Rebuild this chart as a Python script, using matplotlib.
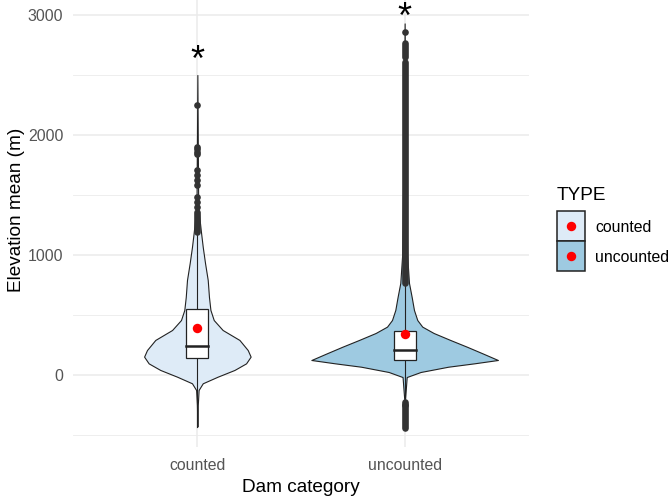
import numpy as np
import matplotlib
matplotlib.use('Agg')
import matplotlib.pyplot as plt
from matplotlib.patches import Rectangle

plt.rcParams['font.family'] = ['Liberation Sans', 'DejaVu Sans']

categories = ["counted", "uncounted"]
fills = ["#DEEBF7", "#9ECAE1"]

# violin outlines: elevation (m) and half width (category units)
counted_elev = [2500, 1400, 1183, 1067, 933, 792, 650, 542, 458, 375, 292, 208, 153, 97, 42, -14, -69, -125, -250, -430]
counted_half = [0.0, 0.004, 0.018, 0.026, 0.037, 0.05, 0.056, 0.063, 0.079, 0.122, 0.203, 0.243, 0.257,
                0.235, 0.179, 0.098, 0.026, 0.006, 0.002, 0.0]
uncounted_elev = [2930, 2000, 1000, 767, 650, 542, 458, 403, 350, 292, 236, 181, 125, 97, 69, 25, -17, -200, -440]
uncounted_half = [0.0, 0.004, 0.012, 0.021, 0.034, 0.045, 0.061, 0.085, 0.14, 0.22, 0.30, 0.375, 0.45,
                  0.335, 0.21, 0.077, 0.01, 0.002, 0.0]

# boxplot stats
q1 = [142, 125]
median = [244, 208]
q3 = [552, 367]
mean = [392, 342]
whisker_low = [-430, -220]
whisker_high = [1182, 762]

# outliers: single points and dense runs (low, high)
outlier_points = [
    [2250, 1900, 1880, 1860, 1840, 1710, 1670, 1625, 1585, 1485, 1440, 1400],
    [2860, -250],
]
outlier_runs = [
    [(1190, 1360)],
    [(2650, 2765), (770, 2610), (-440, -225)],
]

star_y = [2535, 2890]

violins = [(counted_elev, counted_half), (uncounted_elev, uncounted_half)]
pos = [1, 2]
dark = "#222222"

fig = plt.figure(figsize=(6.72, 4.99), dpi=100)
ax = fig.add_axes([73 / 672, 52 / 499, 456 / 672, 447 / 499])

ax.set_xlim(0.4, 2.6)
ax.set_ylim(-600, 3125)
ax.set_yticks([0, 1000, 2000, 3000])
ax.set_yticks([-500, 500, 1500, 2500], minor=True)
ax.set_xticks(pos)
ax.set_xticklabels(categories)
ax.grid(which='major', color='#EBEBEB', lw=1.1)
ax.grid(which='minor', axis='y', color='#EBEBEB', lw=0.6)
ax.set_axisbelow(True)
for s in ax.spines.values():
    s.set_visible(False)
ax.tick_params(which='both', length=0, labelsize=11.4, labelcolor='#555555')
ax.tick_params(axis='y', pad=7)
ax.tick_params(axis='x', pad=8)

bw = 0.105
for i, p in enumerate(pos):
    elev, half = violins[i]
    elev = np.array(elev)
    half = np.array(half)
    ax.fill_betweenx(elev, p - half, p + half, facecolor=fills[i], edgecolor=dark, lw=0.8, zorder=2)
    # whiskers
    ax.plot([p, p], [q3[i], whisker_high[i]], color=dark, lw=0.8, zorder=3)
    ax.plot([p, p], [q1[i], whisker_low[i]], color=dark, lw=0.8, zorder=3)
    # box
    ax.add_patch(Rectangle((p - bw / 2, q1[i]), bw, q3[i] - q1[i], facecolor='white',
                           edgecolor=dark, lw=0.9, zorder=4))
    ax.plot([p - bw / 2, p + bw / 2], [median[i], median[i]], color=dark, lw=1.8, zorder=5)
    # outliers
    ax.plot([p] * len(outlier_points[i]), outlier_points[i], 'o', color='#333333', ms=4.8, mew=0, zorder=4)
    for lo, hi in outlier_runs[i]:
        ax.plot([p, p], [lo, hi], color='#333333', lw=4.8, solid_capstyle='round', zorder=4)
    # mean
    ax.plot(p, mean[i], 'o', color='red', ms=6.8, mew=0, zorder=6)
    ax.text(p, star_y[i], "*", ha='center', va='baseline', fontsize=26, color='black', zorder=6)

ax.set_xlabel("Dam category", fontsize=13.7)
ax.set_ylabel("Elevation mean (m)", fontsize=13.7)
ax.xaxis.set_label_coords(0.5, (447 - 488) / 447)
ax.xaxis.label.set_verticalalignment('center')
ax.yaxis.set_label_coords((17 - 73) / 456, (447 - 210) / 447)
ax.yaxis.label.set_verticalalignment('center')

# legend, drawn in pixel coordinates
lax = fig.add_axes([0, 0, 1, 1], facecolor='none')
lax.set_xlim(0, 672)
lax.set_ylim(499, 0)
lax.axis('off')
lax.text(557, 195, "TYPE", fontsize=13.7, ha='left', va='center')
key_top = [211, 241]
for i, lab in enumerate(categories):
    lax.add_patch(Rectangle((557, key_top[i]), 28, 30, facecolor=fills[i], edgecolor=dark, lw=1.1))
    lax.plot(571, key_top[i] + 15, 'o', color='red', ms=6.8, mew=0)
    lax.text(595, key_top[i] + 16, lab, fontsize=11.4, ha='left', va='center')

fig.savefig("out.png", dpi=100)
